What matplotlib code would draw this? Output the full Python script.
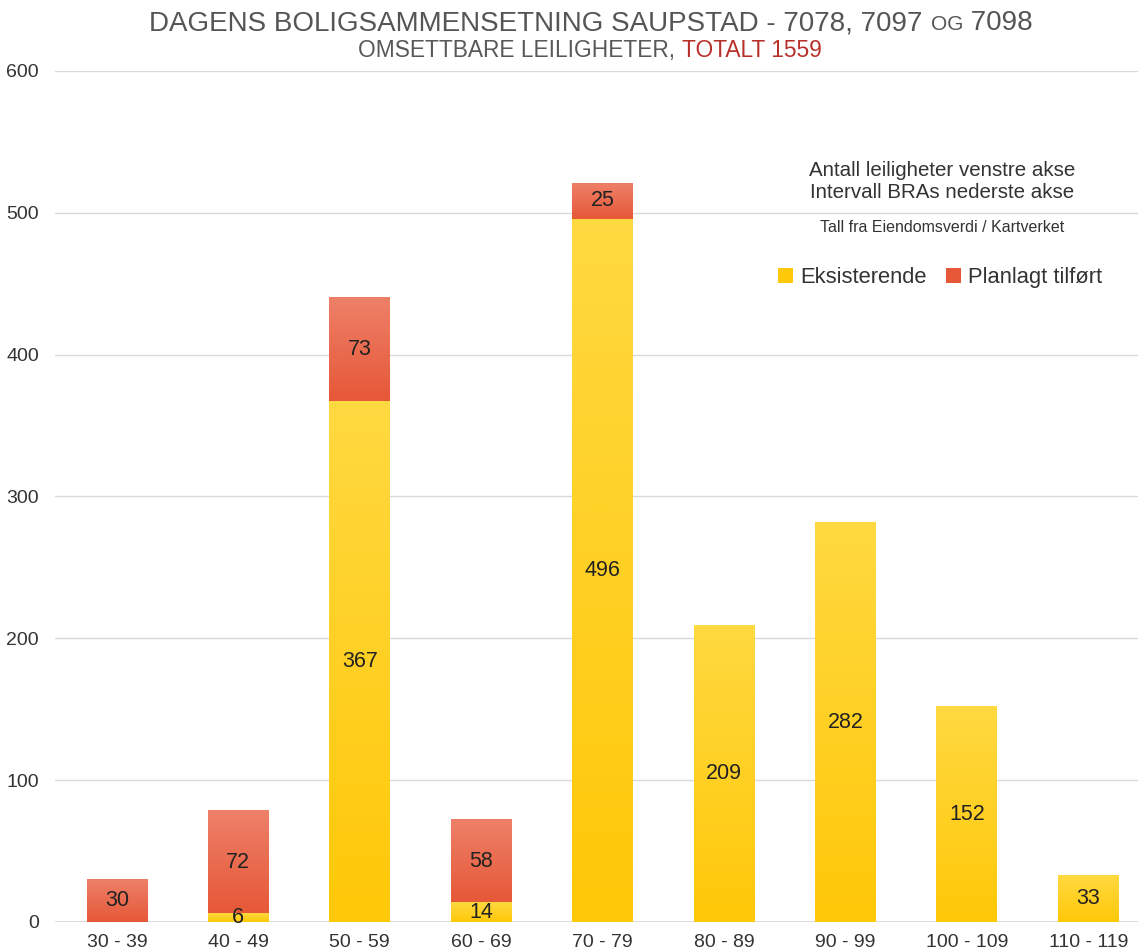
import numpy as np
import matplotlib
matplotlib.use("Agg")
import matplotlib.pyplot as plt
from matplotlib.patches import Patch
from matplotlib.colors import LinearSegmentedColormap


# =========================================================
# Data
# =========================================================

categories = ["30 - 39", "40 - 49", "50 - 59", "60 - 69", "70 - 79",
              "80 - 89", "90 - 99", "100 - 109", "110 - 119"]
existing = [0, 6, 367, 14, 496, 209, 282, 152, 33]
planned = [30, 72, 73, 58, 25, 0, 0, 0, 0]
series_names = ["Eksisterende", "Planlagt tilført"]


# =========================================================
# Style
# =========================================================

plt.rcParams["font.family"] = ["Liberation Sans", "DejaVu Sans"]

YELLOW = ("#FFD940", "#FFC808")
RED = ("#EE8068", "#E65838")
TEXT = "#333333"
GRID = "#d9d9d9"

W, H = 1138, 950


def gradient_bar(ax, x, bottom, height, width, colors):
    if height <= 0:
        return
    cmap = LinearSegmentedColormap.from_list("g", [colors[1], colors[0]])
    grad = np.linspace(0, 1, 64).reshape(-1, 1)
    ax.imshow(grad, cmap=cmap, origin="lower", aspect="auto",
              extent=(x - width / 2, x + width / 2, bottom, bottom + height),
              zorder=2, interpolation="bicubic")


def rich_text(fig, cx, y, pieces):
    renderer = fig.canvas.get_renderer()
    items = []
    for txt, size, color in pieces:
        t = fig.text(0, y, txt, fontsize=size, color=color,
                     va="baseline", ha="left")
        w = t.get_window_extent(renderer).width / fig.bbox.width
        items.append((t, w))
    total = sum(w for _, w in items)
    x = cx - total / 2
    for t, w in items:
        t.set_x(x)
        x += w


# =========================================================
# Figure
# =========================================================

fig = plt.figure(figsize=(W / 100, H / 100), dpi=100)
ax = fig.add_axes([55 / W, 28 / H, (W - 55) / W, (922 - 71) / H])

x = np.arange(len(categories))
width = 0.5

for i in x:
    gradient_bar(ax, i, 0, existing[i], width, YELLOW)
    gradient_bar(ax, i, existing[i], planned[i], width, RED)
    if existing[i] > 0:
        ax.text(i, existing[i] / 2, str(existing[i]), ha="center", va="center",
                fontsize=15.5, color="#222222", zorder=4)
    if planned[i] > 0:
        ax.text(i, existing[i] + planned[i] / 2, str(planned[i]), ha="center",
                va="center", fontsize=15.5, color="#222222", zorder=4)

ax.set_xlim(-0.51, 8.41)
ax.set_ylim(0, 600)
ax.set_yticks(range(0, 601, 100))
ax.set_xticks(x)
ax.set_xticklabels(categories)
ax.tick_params(axis="both", length=0, labelsize=14, labelcolor=TEXT)
ax.tick_params(axis="y", pad=11.5)
ax.tick_params(axis="x", pad=8.5)
ax.grid(axis="y", color=GRID, linewidth=1)
ax.set_axisbelow(True)
ax.axhline(0, color=GRID, linewidth=2, zorder=1)
for s in ax.spines.values():
    s.set_visible(False)

# Titles
rich_text(fig, 591 / W, 1 - 30 / H, [
    ("DAGENS BOLIGSAMMENSETNING SAUPSTAD - 7078, 7097 ", 20, "#555555"),
    ("OG", 15, "#555555"),
    (" 7098", 20, "#555555"),
])
rich_text(fig, 590 / W, 1 - 57 / H, [
    ("OMSETTBARE LEILIGHETER, ", 16.4, "#595959"),
    ("TOTALT 1559", 16.4, "#B8302A"),
])

# Info text
fig.text(942 / W, 1 - 171 / H, "Antall leiligheter venstre akse", ha="center",
         va="center", fontsize=14.8, color=TEXT)
fig.text(942 / W, 1 - 193 / H, "Intervall BRAs nederste akse", ha="center",
         va="center", fontsize=14.8, color=TEXT)
fig.text(942 / W, 1 - 228 / H, "Tall fra Eiendomsverdi / Kartverket", ha="center",
         va="center", fontsize=11.5, color=TEXT)

handles = [Patch(facecolor=YELLOW[1]), Patch(facecolor=RED[1])]
fig.legend(handles, series_names, loc="center", bbox_to_anchor=(940 / W, 1 - 278 / H),
           ncol=2, frameon=False, fontsize=15.8, handlelength=0.7, handleheight=0.7,
           handletextpad=0.3, columnspacing=0.9, labelcolor=TEXT)

fig.savefig("out.png", dpi=100)
